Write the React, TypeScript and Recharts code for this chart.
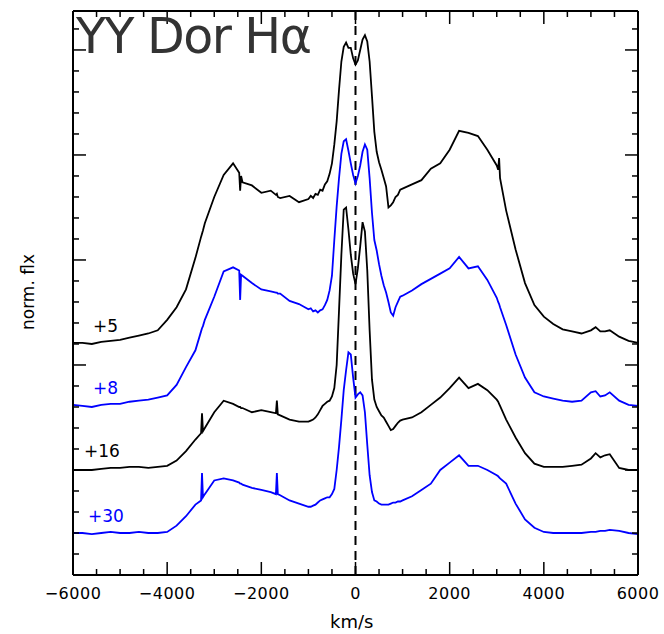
import { LineChart, Line, XAxis, YAxis, ReferenceLine } from "recharts";

// velocity grid (km/s)
const velocity = [
  -6000, -5800, -5600, -5400, -5200, -5000, -4800, -4600, -4400, -4200, -4000, -3800, -3600,
  -3400, -3280, -3260, -3240, -3200, -3000, -2800, -2600, -2470, -2450, -2430, -2400, -2200,
  -2000, -1800, -1690, -1670, -1650, -1600, -1400, -1200,
  -1000, -950, -900, -850, -800, -750, -700, -650, -600, -550, -500, -450, -400, -350, -300,
  -250, -200, -150, -100, -50, 0, 50, 100, 150, 200, 250, 300, 350, 400, 450, 500, 550, 600,
  650, 700, 750, 800, 850, 900, 950, 1000,
  1200, 1400, 1600, 1800, 2000, 2200, 2400, 2600, 2800, 3000, 3030, 3050, 3070, 3200, 3400,
  3600, 3800, 4000, 4200, 4400, 4600, 4800, 5000, 5100, 5200, 5300, 5400, 5600, 5800, 6000,
];

// normalised flux + offset, one list per epoch
const fluxPlus5 = [
  2.21, 2.21, 2.2, 2.22, 2.23, 2.24, 2.26, 2.28, 2.3, 2.33, 2.43, 2.55, 2.72,
  3.02, 3.22, 3.25, 3.28, 3.35, 3.6, 3.81, 3.92, 3.83, 3.66, 3.8, 3.74, 3.71,
  3.64, 3.66, 3.62, 3.63, 3.6, 3.59, 3.61, 3.55,
  3.58, 3.61, 3.59, 3.63, 3.62, 3.67, 3.66, 3.72, 3.75, 3.82, 3.92, 4.1, 4.32, 4.62, 4.89,
  5.03, 5.07, 5.02, 5.02, 4.92, 4.86, 4.9, 5.0, 5.1, 5.14, 5.08, 4.89, 4.56, 4.22, 4.03, 3.93, 3.86, 3.78,
  3.7, 3.5, 3.52, 3.55, 3.6, 3.62, 3.67, 3.68,
  3.72, 3.76, 3.87, 3.92, 4.05, 4.23, 4.21, 4.18, 4.05, 3.9, 3.86, 3.97, 3.78, 3.47, 3.1,
  2.78, 2.57, 2.46, 2.39, 2.34, 2.32, 2.3, 2.33, 2.36, 2.32, 2.32, 2.33, 2.27, 2.23, 2.21,
];

const fluxPlus8 = [
  1.62, 1.61, 1.6, 1.62, 1.63, 1.63, 1.65, 1.66, 1.67, 1.69, 1.71, 1.81, 1.98,
  2.14, 2.32, 2.35, 2.37, 2.43, 2.65, 2.89, 2.93, 2.9, 2.62, 2.86, 2.85, 2.78,
  2.72, 2.7, 2.69, 2.69, 2.68, 2.68, 2.61, 2.58,
  2.53, 2.54, 2.51, 2.52, 2.5, 2.52, 2.53, 2.57, 2.62, 2.71, 2.85, 3.19, 3.51, 3.78, 4.01,
  4.13, 4.15, 4.04, 3.92, 3.81, 3.73, 3.8, 3.9, 4.03, 4.1, 4.05, 3.78, 3.45, 3.19, 3.09, 2.96, 2.85, 2.76,
  2.69, 2.6, 2.5, 2.47, 2.55, 2.6, 2.65, 2.66,
  2.71, 2.77, 2.82, 2.87, 2.92, 3.03, 2.92, 2.94, 2.81, 2.64, 2.6, 2.58, 2.55, 2.38, 2.1,
  1.88, 1.74, 1.7, 1.68, 1.66, 1.65, 1.66, 1.74, 1.75, 1.7, 1.71, 1.74, 1.66, 1.62, 1.61,
];

const fluxPlus16 = [
  1.0, 1.0, 1.0, 1.01, 1.02, 1.02, 1.03, 1.03, 1.02, 1.03, 1.04, 1.09, 1.18,
  1.29, 1.35, 1.54, 1.37, 1.4, 1.55, 1.66, 1.63, 1.6, 1.6, 1.59, 1.59, 1.55,
  1.57, 1.55, 1.54, 1.66, 1.53, 1.52, 1.48, 1.46,
  1.46, 1.47, 1.48, 1.5, 1.53, 1.57, 1.61, 1.63, 1.65, 1.66, 1.7, 1.78, 2.0, 2.52, 3.05,
  3.48, 3.5, 3.29, 3.05, 2.87, 2.77, 2.92, 3.13, 3.36, 3.27, 2.9, 2.33, 1.86, 1.67, 1.6, 1.56, 1.52, 1.5,
  1.46, 1.42, 1.38, 1.39, 1.42, 1.45, 1.47, 1.48,
  1.5, 1.55, 1.62, 1.69, 1.78, 1.88, 1.78, 1.82, 1.76, 1.67, 1.65, 1.63, 1.61, 1.48, 1.31,
  1.16, 1.06, 1.03, 1.03, 1.03, 1.04, 1.05, 1.11, 1.16, 1.12, 1.14, 1.15, 1.02, 1.0, 1.0,
];

const fluxPlus30 = [
  0.4, 0.4, 0.39, 0.4, 0.41, 0.4, 0.4, 0.41, 0.4, 0.4, 0.41, 0.47, 0.56,
  0.67, 0.71, 0.97, 0.74, 0.77, 0.9, 0.92, 0.9, 0.88, 0.87, 0.87, 0.86, 0.83,
  0.81, 0.79, 0.77, 0.97, 0.77, 0.76, 0.71, 0.68,
  0.65, 0.65, 0.66, 0.67, 0.69, 0.71, 0.72, 0.73, 0.74, 0.74, 0.77, 0.82, 1.0, 1.22, 1.48,
  1.76, 1.95, 2.12, 2.1, 1.88, 1.69, 1.72, 1.74, 1.71, 1.55, 1.24, 0.95, 0.79, 0.71, 0.7, 0.68, 0.67, 0.67,
  0.67, 0.67, 0.68, 0.69, 0.69, 0.7, 0.7, 0.71,
  0.75, 0.81, 0.87, 1.0, 1.07, 1.14, 1.04, 1.04, 1.0, 0.95, 0.94, 0.93, 0.92, 0.87, 0.68,
  0.53, 0.45, 0.41, 0.4, 0.4, 0.4, 0.4, 0.41, 0.41, 0.42, 0.42, 0.43, 0.42, 0.4, 0.39,
];

const xTicks = [
  -6000, -5500, -5000, -4500, -4000, -3500, -3000, -2500, -2000, -1500, -1000, -500, 0,
  500, 1000, 1500, 2000, 2500, 3000, 3500, 4000, 4500, 5000, 5500, 6000,
];
const yTicks = [
  0, 0.2, 0.4, 0.6, 0.8, 1, 1.2, 1.4, 1.6, 1.8, 2, 2.2, 2.4, 2.6, 2.8, 3, 3.2, 3.4, 3.6, 3.8,
  4, 4.2, 4.4, 4.6, 4.8, 5, 5.2,
];

const data = velocity.map((v, i) => ({
  v,
  p5: fluxPlus5[i],
  p8: fluxPlus8[i],
  p16: fluxPlus16[i],
  p30: fluxPlus30[i],
}));

const BLUE = "#0000ff";
const tickFont = "'DejaVu Sans', sans-serif";

// plot frame edges in px (chart margins below put it here)
const LEFT = 73;
const RIGHT = 638;
const TOP = 11;
const BOTTOM = 575;

const fmt = (v: number) => (v < 0 ? "\u2212" + Math.abs(v) : String(v));
const isMajorY = (v: number) => Math.abs(v - Math.round(v)) < 1e-6;

function BottomTick(props: any) {
  const { x, payload } = props;
  const major = payload.value % 2000 === 0;
  return (
    <g>
      <path d={`M${x},${BOTTOM}V${BOTTOM - (major ? 13 : 6)}`} stroke="#000" strokeWidth={1.5} />
      {major && (
        <text x={x} y={BOTTOM + 24} textAnchor="middle" fontSize={16} fontFamily={tickFont} fill="#000" letterSpacing={0.5}>
          {fmt(payload.value)}
        </text>
      )}
    </g>
  );
}

function TopTick(props: any) {
  const { x, payload } = props;
  const major = payload.value % 2000 === 0;
  return <path d={`M${x},${TOP}V${TOP + (major ? 13 : 6)}`} stroke="#000" strokeWidth={1.5} />;
}

function LeftTick(props: any) {
  const { y, payload } = props;
  const len = isMajorY(payload.value) ? 13 : 6;
  return <path d={`M${LEFT},${y}H${LEFT + len}`} stroke="#000" strokeWidth={1.5} />;
}

function RightTick(props: any) {
  const { y, payload } = props;
  const len = isMajorY(payload.value) ? 13 : 6;
  return <path d={`M${RIGHT},${y}H${RIGHT - len}`} stroke="#000" strokeWidth={1.5} />;
}

const labelStyle = { position: "absolute" as const, fontFamily: tickFont, fontSize: 17 };

export default function App() {
  return (
    <div style={{ position: "absolute", left: 0, top: 0, width: 664, height: 634, background: "#fff" }}>
      <LineChart width={664} height={634} data={data} margin={{ top: 10, right: 25, bottom: 0, left: 0 }}>
        <XAxis
          xAxisId="bottom"
          dataKey="v"
          type="number"
          domain={[-6000, 6000]}
          ticks={xTicks}
          interval={0}
          height={59}
          tickSize={0}
          tickMargin={0}
          tickLine={false}
          axisLine={{ stroke: "#000", strokeWidth: 2 }}
          tick={<BottomTick />}
        />
        <XAxis
          xAxisId="top"
          orientation="top"
          dataKey="v"
          type="number"
          domain={[-6000, 6000]}
          ticks={xTicks}
          interval={0}
          height={1}
          tickSize={0}
          tickMargin={0}
          tickLine={false}
          axisLine={{ stroke: "#000", strokeWidth: 2 }}
          tick={<TopTick />}
        />
        <YAxis
          yAxisId="left"
          type="number"
          domain={[0, 5.371]}
          ticks={yTicks}
          interval={0}
          width={73}
          tickSize={0}
          tickMargin={0}
          tickLine={false}
          axisLine={{ stroke: "#000", strokeWidth: 2 }}
          tick={<LeftTick />}
          allowDataOverflow
        />
        <YAxis
          yAxisId="right"
          orientation="right"
          type="number"
          domain={[0, 5.371]}
          ticks={yTicks}
          interval={0}
          width={1}
          tickSize={0}
          tickMargin={0}
          tickLine={false}
          axisLine={{ stroke: "#000", strokeWidth: 2 }}
          tick={<RightTick />}
          allowDataOverflow
        />
        <ReferenceLine xAxisId="bottom" yAxisId="left" x={0} stroke="#000" strokeWidth={2} strokeDasharray="9 6" />
        <Line xAxisId="bottom" yAxisId="left" dataKey="p5" stroke="#000" strokeWidth={1.8} dot={false} isAnimationActive={false} type="linear" />
        <Line xAxisId="bottom" yAxisId="left" dataKey="p8" stroke={BLUE} strokeWidth={1.8} dot={false} isAnimationActive={false} type="linear" />
        <Line xAxisId="bottom" yAxisId="left" dataKey="p16" stroke="#000" strokeWidth={1.8} dot={false} isAnimationActive={false} type="linear" />
        <Line xAxisId="bottom" yAxisId="left" dataKey="p30" stroke={BLUE} strokeWidth={1.8} dot={false} isAnimationActive={false} type="linear" />
      </LineChart>

      <div style={{ position: "absolute", left: 76, top: 8, fontFamily: "'DejaVu Sans', sans-serif", fontSize: 49, letterSpacing: -1.5, color: "#333", whiteSpace: "nowrap" }}>
        YY Dor Hα
      </div>
      <div style={{ ...labelStyle, left: 93, top: 316, color: "#000" }}>+5</div>
      <div style={{ ...labelStyle, left: 93, top: 378, color: BLUE }}>+8</div>
      <div style={{ ...labelStyle, left: 84, top: 441, color: "#000" }}>+16</div>
      <div style={{ ...labelStyle, left: 88, top: 506, color: BLUE }}>+30</div>
      <div style={{ ...labelStyle, left: 330, top: 611, fontSize: 18, color: "#000" }}>km/s</div>
      <div
        style={{
          ...labelStyle,
          left: 28,
          top: 292,
          color: "#000",
          whiteSpace: "nowrap",
          transform: "translate(-50%, -50%) rotate(-90deg)",
        }}
      >
        norm. flx
      </div>
    </div>
  );
}
